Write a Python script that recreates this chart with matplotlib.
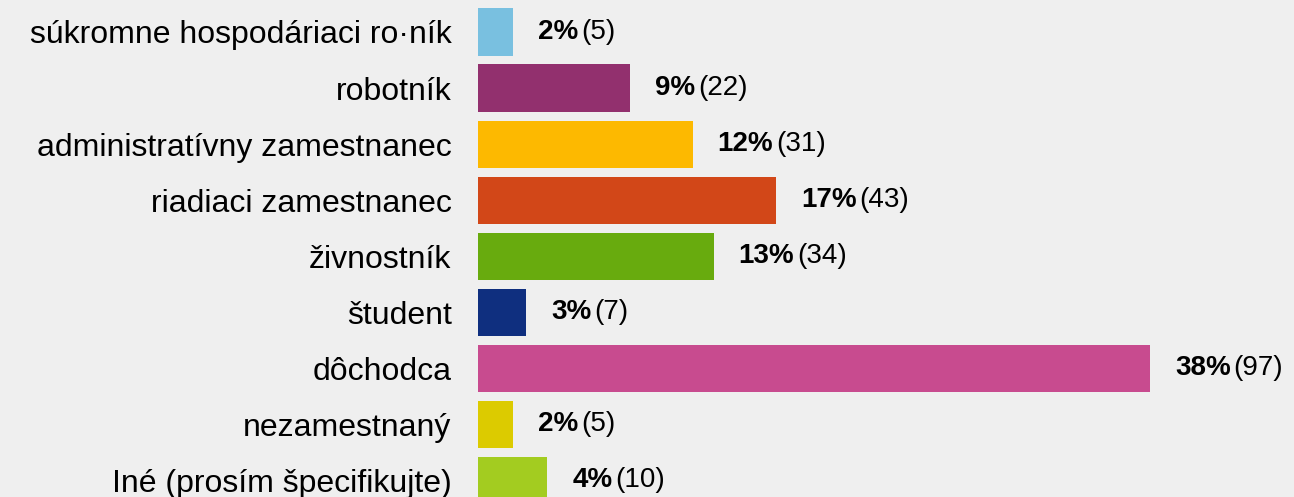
import matplotlib
matplotlib.use('Agg')
import matplotlib.pyplot as plt

# survey answers, top to bottom
categories = ['súkromne hospodáriaci ro·ník', 'robotník', 'administratívny zamestnanec',
              'riadiaci zamestnanec', 'živnostník', 'študent', 'dôchodca',
              'nezamestnaný', 'Iné (prosím špecifikujte)']
counts = [5, 22, 31, 43, 34, 7, 97, 5, 10]
percents = [2, 9, 12, 17, 13, 3, 38, 2, 4]
colors = ['#79c0e0', '#92306e', '#fdb900', '#d24718', '#68ab0e',
          '#0f2f7f', '#c84b8f', '#dccb00', '#a3cc20']


def main():
    fig = plt.figure(figsize=(12.94, 4.97), dpi=100)
    fig.patch.set_facecolor('#efefef')
    ax = fig.add_axes([478 / 1294, 0, 816 / 1294, 1])
    ax.set_facecolor('#efefef')

    y = range(len(categories))
    ax.barh(y, counts, height=0.84, color=colors)
    ax.set_xlim(0, 117.8)
    ax.set_ylim(8.30, -0.571)

    ax.set_yticks(list(y))
    ax.set_yticklabels(categories, family='Liberation Sans', fontsize=23)
    ax.tick_params(axis='y', length=0, pad=19)
    ax.set_xticks([])
    for s in ax.spines.values():
        s.set_visible(False)

    for i, (c, p) in enumerate(zip(counts, percents)):
        t = ax.annotate('%d%%' % p, xy=(c, i), xytext=(25, 0), textcoords='offset pixels',
                        va='center', ha='left', fontsize=20, fontweight='bold',
                        family='Liberation Sans')
        ax.annotate('(%d)' % c, xy=(1, 0.5), xycoords=t, xytext=(3, 0),
                    textcoords='offset pixels', va='center', ha='left',
                    fontsize=20, family='Liberation Sans')

    fig.savefig('out.png', dpi=100, facecolor=fig.get_facecolor())


if __name__ == '__main__':
    main()
